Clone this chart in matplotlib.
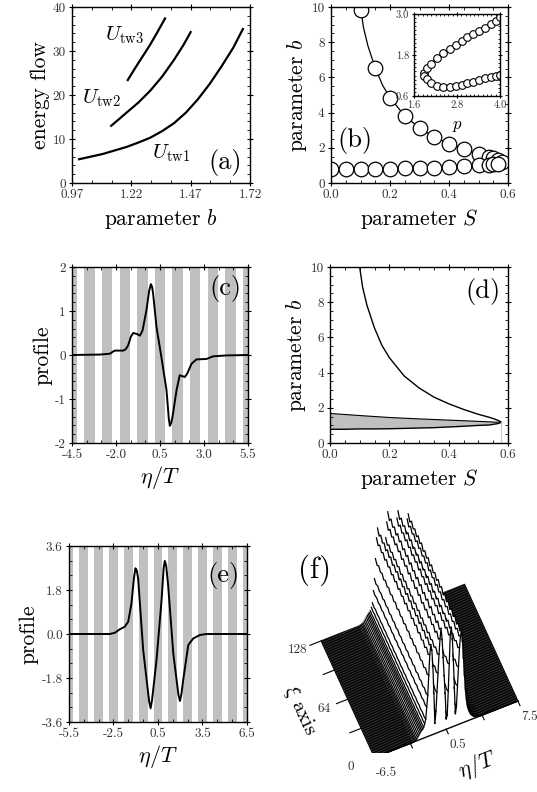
import numpy as np
import matplotlib
matplotlib.use('Agg')
import matplotlib.pyplot as plt
from matplotlib.ticker import MultipleLocator
from mpl_toolkits.mplot3d.art3d import Poly3DCollection

plt.rcParams['font.family'] = ['cmr10', 'DejaVu Serif']
plt.rcParams['mathtext.fontset'] = 'cm'
plt.rcParams['axes.unicode_minus'] = False
plt.rcParams['axes.formatter.use_mathtext'] = True
plt.rcParams['axes.linewidth'] = 1.0

# ---- (a) energy flow of the three branches
b_tw1 = [1.00, 1.05, 1.10, 1.15, 1.20, 1.25, 1.30, 1.35, 1.40, 1.45, 1.50, 1.55, 1.60, 1.65, 1.69]
U_tw1 = [5.4, 6.0, 6.6, 7.4, 8.2, 9.2, 10.3, 11.8, 13.6, 16.0, 19.0, 22.5, 26.5, 30.8, 35.0]
b_tw2 = [1.135, 1.17, 1.20, 1.25, 1.30, 1.35, 1.40, 1.44, 1.47]
U_tw2 = [13.0, 14.6, 16.0, 18.3, 21.0, 24.2, 28.0, 31.4, 34.3]
b_tw3 = [1.205, 1.23, 1.25, 1.28, 1.30, 1.33, 1.362]
U_tw3 = [23.4, 25.6, 27.3, 29.8, 31.5, 34.3, 37.4]

# ---- (b)/(d) existence curve b(S)
curve_S = [0.10, 0.11, 0.125, 0.15, 0.175, 0.2, 0.25, 0.3, 0.35, 0.4, 0.45, 0.5, 0.535, 0.555,
           0.57, 0.578, 0.565, 0.55, 0.535, 0.5, 0.45, 0.4, 0.35, 0.3, 0.25, 0.2, 0.15, 0.1, 0.05, 0.0]
curve_b = [10.0, 8.85, 7.8, 6.53, 5.55, 4.85, 3.81, 3.13, 2.61, 2.23, 1.91, 1.63, 1.47, 1.36,
           1.26, 1.17, 1.1, 1.06, 1.02, 1.0, 0.95, 0.91, 0.87, 0.85, 0.83, 0.81, 0.8, 0.8, 0.78, 0.78]
mark_S = [0.1, 0.15, 0.2, 0.25, 0.3, 0.35, 0.4, 0.45, 0.5, 0.535, 0.55, 0.565, 0.578,
          0.0, 0.05, 0.1, 0.15, 0.2, 0.25, 0.3, 0.35, 0.4, 0.45, 0.5, 0.535, 0.55, 0.565]
mark_b = [9.85, 6.53, 4.85, 3.81, 3.13, 2.61, 2.23, 1.91, 1.63, 1.47, 1.4, 1.28, 1.17,
          0.78, 0.78, 0.8, 0.8, 0.81, 0.83, 0.85, 0.87, 0.91, 0.95, 1.0, 1.02, 1.06, 1.1]

# inset of (b): b versus p
p_up = [1.89, 1.95, 2.07, 2.23, 2.42, 2.6, 2.77, 2.93, 3.09, 3.26, 3.42, 3.58, 3.74, 3.89, 4.0]
b_up = [1.26, 1.41, 1.53, 1.72, 1.85, 1.97, 2.09, 2.21, 2.33, 2.41, 2.51, 2.6, 2.7, 2.8, 2.92]
p_lo = [1.89, 1.95, 2.07, 2.23, 2.42, 2.6, 2.77, 2.93, 3.09, 3.26, 3.42, 3.58, 3.74, 3.89, 4.0]
b_lo = [1.19, 1.10, 0.97, 0.89, 0.87, 0.87, 0.89, 0.92, 0.97, 1.02, 1.06, 1.12, 1.16, 1.19, 1.22]

# (d) upper edge of the shaded region
gray_S = [0.0, 0.1, 0.2, 0.3, 0.4, 0.5, 0.578]
gray_b = [1.68, 1.56, 1.45, 1.37, 1.3, 1.23, 1.17]

# ---- (c) and (e) profiles
eta_c = [-4.5, -2.91, -2.34, -2.2, -2.06, -1.59, -1.45, -1.31, -1.15, -1.02, -0.83, -0.64, -0.49,
         -0.27, -0.12, -0.02, 0.05, 0.11, 0.3, 0.58, 0.87, 1.0, 1.06, 1.13, 1.21, 1.44, 1.62,
         1.91, 2.05, 2.29, 2.57, 3.14, 3.52, 4.27, 5.5]
u_c = [0.0, 0.01, 0.03, 0.07, 0.1, 0.1, 0.13, 0.22, 0.42, 0.5, 0.48, 0.44, 0.56,
       1.02, 1.45, 1.61, 1.55, 1.39, 0.64, -0.05, -0.8, -1.45, -1.61, -1.55, -1.41, -0.8, -0.46,
       -0.5, -0.42, -0.2, -0.1, -0.09, -0.03, -0.01, 0.0]
eta_e = [-5.5, -2.75, -2.41, -2.08, -1.74, -1.51, -1.29, -1.12, -1.02, -0.93, -0.84, -0.5, -0.1,
         0.0, 0.1, 0.4, 0.74, 0.88, 0.96, 1.05, 1.19, 1.53, 1.88, 1.98, 2.08, 2.2, 2.54, 2.88,
         3.33, 3.78, 6.5]
u_e = [0.0, 0.0, 0.05, 0.19, 0.3, 0.5, 1.25, 2.3, 2.69, 2.6, 2.28, -0.65, -2.75,
       -3.04, -2.7, -1.06, 1.39, 2.7, 2.99, 2.8, 1.94, -0.79, -2.5, -2.74, -2.45, -1.88, -0.45, -0.18,
       -0.04, 0.0, 0.0]
lattice = [-5.5, -4.5, -3.5, -2.5, -1.5, -0.5, 0.5, 1.5, 2.5, 3.5, 4.5, 5.5, 6.5]

# ---- (f) propagation along xi
eta_f = np.linspace(-6.5, 7.5, 141)
amp_f = np.array([0.0] * 38 +
                 [0.01, 0.02, 0.03, 0.05, 0.09, 0.13, 0.18, 0.22, 0.25, 0.28, 0.32, 0.41, 0.53,
                  0.88, 1.22, 1.8, 2.4, 2.68, 2.5, 2.0, 1.2, 0.3, 0.65, 1.2, 1.75, 2.3, 2.75,
                  3.04, 2.7, 2.15, 1.6, 1.06, 0.3, 0.4, 1.1, 1.9, 2.75, 2.95, 2.6, 1.95, 1.1,
                  0.35, 0.55, 1.15, 1.7, 2.25, 2.6, 2.74, 2.4, 1.88, 1.35, 0.9, 0.6, 0.4, 0.3,
                  0.22, 0.16, 0.12, 0.09, 0.06, 0.04, 0.03, 0.02, 0.01] +
                 [0.0] * 39)
mod_f = [1.0, 0.955, 1.0, 0.95, 0.995, 0.955, 1.0, 0.95, 1.0, 0.955, 0.995, 0.95, 1.0, 0.955,
         1.0, 0.95, 0.995, 0.955, 1.0, 0.95, 1.0, 0.955, 0.995, 0.95, 1.0, 0.955, 1.0, 0.95,
         0.995, 0.955, 1.0, 0.95, 1.0]
xi_f = np.linspace(0, 128, len(mod_f))

W, H = 537.0, 792.0
fig = plt.figure(figsize=(5.37, 7.92), dpi=100)


def box(l, t, r, b):
    return [l / W, 1 - b / H, (r - l) / W, (b - t) / H]


def style(ax, xt, xl, xmin, xoff, yt, yl, ymin, yoff, size=9.5):
    ax.set_xticks(xt)
    ax.set_xticklabels(xl)
    ax.set_yticks(yt)
    ax.set_yticklabels(yl)
    ax.xaxis.set_minor_locator(MultipleLocator(xmin, offset=xoff))
    ax.yaxis.set_minor_locator(MultipleLocator(ymin, offset=yoff))
    ax.tick_params(which='both', top=True, right=True, labelsize=size,
                   labelcolor='#333333', pad=2)
    ax.tick_params(which='major', direction='inout', length=5, width=0.8)
    ax.tick_params(which='minor', direction='in', length=2.5, width=0.6)


lab = 15.5

# (a)
ax1 = fig.add_axes(box(72, 7, 250, 183))
ax1.plot(b_tw1, U_tw1, 'k', lw=1.6)
ax1.plot(b_tw2, U_tw2, 'k', lw=1.6)
ax1.plot(b_tw3, U_tw3, 'k', lw=1.6)
ax1.set_xlim(0.97, 1.72)
ax1.set_ylim(0, 40)
style(ax1, [0.97, 1.22, 1.47, 1.72], ['0.97', '1.22', '1.47', '1.72'], 0.25 / 3, 0.97,
      [0, 10, 20, 30, 40], ['0', '10', '20', '30', '40'], 2, 0)
ax1.text(1.193, 33.6, r'$U_{\rm tw3}$', fontsize=15, ha='center', va='center')
ax1.text(1.095, 19.2, r'$U_{\rm tw2}$', fontsize=15, ha='center', va='center')
ax1.text(1.39, 6.75, r'$U_{\rm tw1}$', fontsize=15, ha='center', va='center')
ax1.text(0.86, 0.114, '(a)', transform=ax1.transAxes, fontsize=19, ha='center', va='center')
ax1.set_xlabel(r'parameter $b$', fontsize=lab, labelpad=4)
ax1.set_ylabel('energy flow', fontsize=lab, labelpad=2)

# (b)
ax2 = fig.add_axes(box(331, 7, 508, 183))
ax2.plot(curve_S, curve_b, 'k', lw=0.9)
ax2.plot(mark_S, mark_b, 'o', ms=10.5, mfc='white', mec='k', mew=0.9, ls='none')
ax2.set_xlim(0, 0.6)
ax2.set_ylim(0, 10)
style(ax2, [0, 0.2, 0.4, 0.6], ['0.0', '0.2', '0.4', '0.6'], 0.05, 0,
      [0, 2, 4, 6, 8, 10], ['0', '2', '4', '6', '8', '10'], 0.5, 0)
ax2.text(0.136, 0.244, '(b)', transform=ax2.transAxes, fontsize=19, ha='center', va='center')
ax2.set_xlabel(r'parameter $S$', fontsize=lab, labelpad=4)
ax2.set_ylabel(r'parameter $b$', fontsize=lab, labelpad=2)

axin = fig.add_axes(box(414, 14, 500, 96))
axin.plot(p_up, b_up, 'k', lw=0.7)
axin.plot(p_lo, b_lo, 'k', lw=0.7)
axin.plot(p_up, b_up, 'o', ms=5.5, mfc='white', mec='k', mew=0.8)
axin.plot(p_lo, b_lo, 'o', ms=5.5, mfc='white', mec='k', mew=0.8)
axin.set_xlim(1.6, 4.0)
axin.set_ylim(0.6, 3.0)
style(axin, [1.6, 2.8, 4.0], ['1.6', '2.8', '4.0'], 0.12, 1.6,
      [0.6, 1.8, 3.0], ['0.6', '1.8', '3.0'], 0.12, 0.6, size=7.5)
axin.tick_params(which='major', length=3)
axin.tick_params(which='minor', length=1.5)
axin.set_xlabel(r'$p$', fontsize=12, labelpad=6)

# (c)
ax3 = fig.add_axes(box(72, 267, 248, 443))
for c in lattice:
    ax3.axvspan(c - 0.29, c + 0.29, color='#c0c0c0', lw=0)
ax3.plot(eta_c, u_c, 'k', lw=1.4)
ax3.set_xlim(-4.5, 5.5)
ax3.set_ylim(-2, 2)
style(ax3, [-4.5, -2.0, 0.5, 3.0, 5.5], ['-4.5', '-2.0', '0.5', '3.0', '5.5'], 2.5 / 3, 0.5,
      [-2, -1, 0, 1, 2], ['-2', '-1', '0', '1', '2'], 0.2, 0)
ax3.text(0.87, 0.88, '(c)', transform=ax3.transAxes, fontsize=19, ha='center', va='center')
ax3.set_xlabel(r'$\eta/T$', fontsize=16, labelpad=2)
ax3.set_ylabel('profile', fontsize=lab, labelpad=2)

# (d)
ax4 = fig.add_axes(box(330, 267, 508, 443))
ax4.fill(gray_S + curve_S[16:], gray_b + curve_b[16:], color='#c0c0c0', lw=0)
ax4.plot(gray_S, gray_b, 'k', lw=0.8)
ax4.plot(curve_S, curve_b, 'k', lw=1.0)
ax4.plot([curve_S[15], curve_S[15]], [0, curve_b[15]], color='#c8c8c8', lw=0.8)
ax4.set_xlim(0, 0.6)
ax4.set_ylim(0, 10)
style(ax4, [0, 0.2, 0.4, 0.6], ['0.0', '0.2', '0.4', '0.6'], 0.05, 0,
      [0, 2, 4, 6, 8, 10], ['0', '2', '4', '6', '8', '10'], 0.5, 0)
ax4.text(0.86, 0.86, '(d)', transform=ax4.transAxes, fontsize=19, ha='center', va='center')
ax4.set_xlabel(r'parameter $S$', fontsize=lab, labelpad=4)
ax4.set_ylabel(r'parameter $b$', fontsize=lab, labelpad=2)

# (e)
ax5 = fig.add_axes(box(69, 546, 247, 722))
for c in lattice:
    ax5.axvspan(c - 0.3, c + 0.3, color='#c0c0c0', lw=0)
ax5.plot(eta_e, u_e, 'k', lw=1.4)
ax5.set_xlim(-5.5, 6.5)
ax5.set_ylim(-3.6, 3.6)
style(ax5, [-5.5, -2.5, 0.5, 3.5, 6.5], ['-5.5', '-2.5', '0.5', '3.5', '6.5'], 1.0, 0.5,
      [-3.6, -1.8, 0.0, 1.8, 3.6], ['-3.6', '-1.8', '0.0', '1.8', '3.6'], 0.6, 0)
ax5.text(0.867, 0.835, '(e)', transform=ax5.transAxes, fontsize=19, ha='center', va='center')
ax5.set_xlabel(r'$\eta/T$', fontsize=16, labelpad=2)
ax5.set_ylabel('profile', fontsize=lab, labelpad=2)

# (f) waterfall: one white curtain per eta, drawn back to front
ax6 = fig.add_axes(box(286, 493, 546, 753), projection='3d', proj_type='ortho',
                   computed_zorder=False)
ax6.patch.set_visible(False)
ax6.set_axis_off()
ax6.set_xticks([])
ax6.set_yticks([])
ax6.set_zticks([])
ax6.view_init(elev=68, azim=-113)
ax6.set_box_aspect((1.557, 1.365, 2.747), zoom=1.285)
nf = len(eta_f)
mod = np.array(mod_f)
for i, (e, a) in enumerate(zip(eta_f, amp_f)):
    z = a * mod
    verts = [(e, x, zz) for x, zz in zip(xi_f, z)] + [(e, xi_f[-1], 0.0), (e, xi_f[0], 0.0)]
    poly = Poly3DCollection([verts], facecolor='white', edgecolor='none')
    poly.set_zorder(10 + 2 * (nf - i))
    ax6.add_collection3d(poly)
    ax6.plot(np.full(len(xi_f), e), xi_f, z, color='k', lw=0.9, zorder=11 + 2 * (nf - i))

top = 20 + 2 * nf + 10
# front edge of the surface (xi = 0)
ax6.plot(eta_f, np.zeros(nf), amp_f * mod[0], color='k', lw=0.9, zorder=top)

eta_ticks = [-6.5, -3.0, 0.5, 4.0, 7.5]
eta_labels = {-6.5: '-6.5', 0.5: '0.5', 7.5: '7.5'}
xi_ticks = [0, 32, 64, 96, 128]
xi_labels = {0: '0', 64: '64', 128: '128'}
ax6.plot([-6.5, 7.5], [0, 0], [0, 0], color='k', lw=1.0, zorder=top)
for t in eta_ticks:
    ax6.plot([t, t], [0, -5], [0, 0], color='k', lw=0.8, zorder=top)
    if t in eta_labels:
        ax6.text(t + 0.4, -19, 0, eta_labels[t], fontsize=9.5, color='#333333',
                 ha='center', va='center', zorder=top)
for t in xi_ticks:
    ax6.plot([-6.5, -7.6], [t, t], [0, 0], color='k', lw=0.8, zorder=top)
    if t in xi_labels:
        ax6.text(-8.8, t, 0, xi_labels[t], fontsize=9.5, color='#333333',
                 ha='center', va='center', zorder=top)
ax6.set_xlim(-6.5, 7.5)
ax6.set_ylim(0, 128)
ax6.set_zlim(0, 3.04)

fig.text(478 / W, 1 - 765 / H, r'$\eta/T$', fontsize=16, rotation=21.5, ha='center', va='center')
fig.text(300 / W, 1 - 710 / H, r'$\xi$ axis', fontsize=15, rotation=-65, ha='center', va='center')
fig.text(315 / W, 1 - 570 / H, '(f)', fontsize=22, ha='center', va='center')

fig.savefig('out.png', dpi=100)
